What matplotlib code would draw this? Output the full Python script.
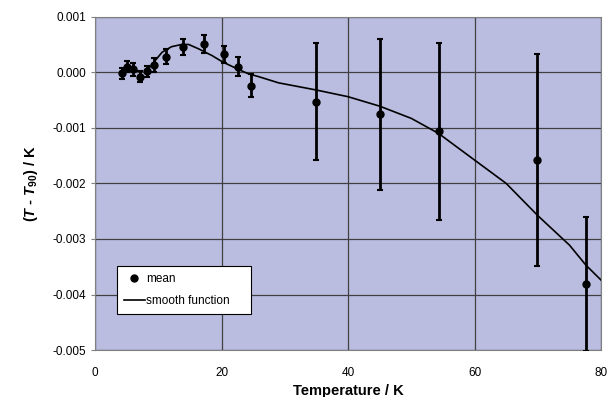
import numpy as np
import matplotlib.pyplot as plt
from matplotlib.lines import Line2D

plt.rcParams['font.family'] = ['Liberation Sans', 'DejaVu Sans']
plt.rcParams['mathtext.fontset'] = 'custom'
plt.rcParams['mathtext.it'] = 'Liberation Sans:italic:bold'
plt.rcParams['mathtext.rm'] = 'Liberation Sans:bold'

# measured means with uncertainty
temp = [4.3, 5.0, 6.0, 7.1, 8.2, 9.4, 11.2, 13.9, 17.2, 20.4, 22.6, 24.6,
        35.0, 45.0, 54.3, 69.9, 77.6]
mean = [-0.00002, 0.0001, 0.00005, -0.00008, 0.00002, 0.00013, 0.00028, 0.00045,
        0.00051, 0.00032, 0.0001, -0.00024,
        -0.00053, -0.00076, -0.00106, -0.00158, -0.00381]
err = [0.0001, 0.0001, 0.00012, 0.0001, 0.0001, 0.00012, 0.00013, 0.00014,
       0.00016, 0.00015, 0.00017, 0.0002,
       0.00105, 0.00136, 0.00159, 0.0019, 0.0012]

# smooth function
t_smooth = [8.0, 9.3, 10.6, 12.1, 13.7, 14.8, 16.4, 18.5, 20.1, 22.5, 24.3, 25.9,
            29.0, 35.0, 40.0, 45.0, 50.0, 54.3, 60.0, 65.0, 70.0, 75.0, 77.6, 80.0]
d_smooth = [0.0, 0.00018, 0.00036, 0.00046, 0.0005, 0.0005, 0.00042, 0.0003,
            0.00019, 0.00006, -0.00003, -0.00008, -0.00019, -0.00032, -0.00044,
            -0.00061, -0.00083, -0.0011, -0.00158, -0.002, -0.00258, -0.00311,
            -0.00347, -0.00374]

fig = plt.figure(figsize=(6.09, 3.97), dpi=100)
ax = fig.add_axes([0.156, 0.118, 0.831, 0.840])
ax.set_facecolor('#babddf')

ax.plot(t_smooth, d_smooth, color='black', lw=1.2, zorder=3)
ax.errorbar(temp, mean, yerr=err, fmt='o', color='black', ms=5, elinewidth=2,
            capsize=2, capthick=1.5, zorder=4)

ax.set_xlim(0, 80)
ax.set_ylim(-0.005, 0.001)
ax.set_xticks([0, 20, 40, 60, 80])
ax.set_yticks(np.arange(-0.005, 0.0011, 0.001))
ax.set_yticklabels(['%.3f' % v for v in np.arange(-0.005, 0.0011, 0.001)])
ax.grid(True, color='#404040', lw=0.9)
ax.set_axisbelow(True)
for s in ax.spines.values():
    s.set_color('#808080')
    s.set_linewidth(0.8)
ax.tick_params(axis='both', labelsize=8.5, color='#808080', length=3)
ax.tick_params(axis='x', length=0, pad=12)

ax.set_xlabel('Temperature / K', fontsize=10.5, fontweight='bold', labelpad=4)
ax.set_ylabel(r'($T$ - $T_{90}$) / K', fontsize=10.5, fontweight='bold', labelpad=9)

handles = [Line2D([], [], marker='o', ls='none', color='black', ms=5),
           Line2D([], [], color='black', lw=1.2)]
leg = ax.legend(handles, ['mean', 'smooth function'], loc='lower left',
                bbox_to_anchor=(0.043, 0.108, 0.265, 0.14), mode='expand',
                borderaxespad=0, fontsize=8.5,
                fancybox=False, framealpha=1, edgecolor='black',
                handlelength=1.8, labelspacing=0.85, borderpad=0.6, handletextpad=0.1)
leg.get_frame().set_linewidth(0.8)

fig.savefig('out.png', dpi=100)
